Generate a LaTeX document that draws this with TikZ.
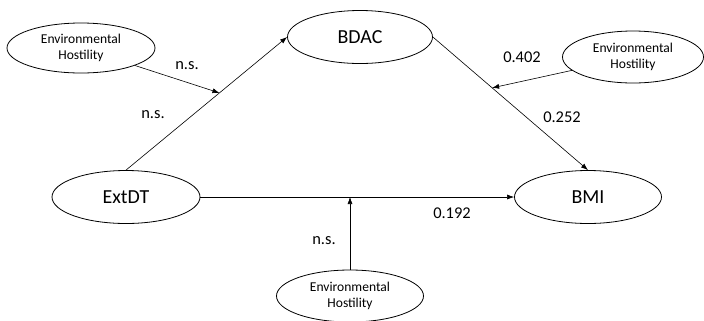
\documentclass[tikz,border=0pt]{standalone}
\usepackage{fontspec}
\setmainfont{Carlito}
\usetikzlibrary{arrows.meta,calc,shapes.geometric}
\begin{document}
\begin{tikzpicture}[x=1bp,y=-1bp,
  var/.style={draw,ellipse,line width=0.8bp,inner sep=0pt,font=\fontsize{20}{22}\selectfont},
  mod/.style={draw,ellipse,line width=0.8bp,inner sep=0pt,align=center,font=\fontsize{13.6}{16}\selectfont},
  lab/.style={inner sep=0pt,font=\fontsize{16.5}{18}\selectfont},
  conn/.style={line width=0.6bp,-{Latex[length=7bp,width=5bp]}}]
\useasboundingbox (0,0) rectangle (704,320);
\node[mod,minimum width=148bp,minimum height=50bp] (eh1) at (81,48) {Environmental\\Hostility};
\node[var,minimum width=145bp,minimum height=53bp] (bdac) at (360,37) {BDAC};
\node[mod,minimum width=141bp,minimum height=52bp] (eh2) at (633,57) {Environmental\\Hostility};
\node[var,minimum width=148bp,minimum height=53bp] (extdt) at (126,197) {ExtDT};
\node[var,minimum width=147bp,minimum height=53bp] (bmi) at (588,197) {BMI};
\node[mod,minimum width=147bp,minimum height=52bp] (eh3) at (350,296) {Environmental\\Hostility};

\coordinate (m1) at ($(extdt.north)!0.58!(bdac.west)$);
\coordinate (m2) at ($(bdac.east)!0.382!(bmi.north)$);
\coordinate (m3) at (eh3.north |- extdt.east);

\draw[conn] (extdt.north) -- (bdac.west);
\draw[conn] (bdac.east) -- (bmi.north);
\draw[conn] (extdt.east) -- (bmi.west);
\draw[conn] (eh1) -- (m1);
\draw[conn] (eh2) -- (m2);
\draw[conn] (eh3.north) -- (m3);

\node[lab] (ns1) at (187,66) {n.s.};
\node[lab] (ns2) at (153,115) {n.s.};
\node[lab] (l402) at (522,57) {0.402};
\node[lab] (l252) at (562,117) {0.252};
\node[lab] (l192) at (452,213) {0.192};
\node[lab] (ns3) at (324,241) {n.s.};
\end{tikzpicture}
\end{document}
